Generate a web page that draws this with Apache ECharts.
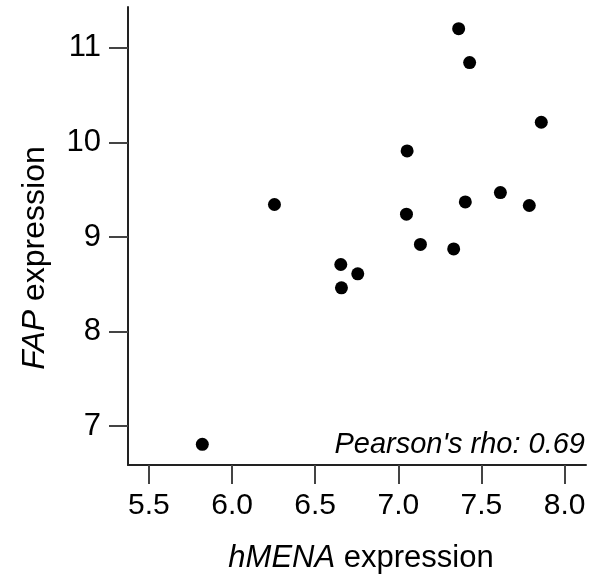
<!DOCTYPE html>
<html><head><meta charset="utf-8">
<script src="https://cdn.jsdelivr.net/npm/echarts@6/dist/echarts.min.js"></script>
<style>html,body{margin:0;padding:0;background:#fff}#c{width:593px;height:581px}</style>
</head><body><div id="c"></div>
<script>
const hmena = [7.363, 7.429, 7.860, 7.053, 6.255, 7.614, 7.403, 7.788, 7.049, 7.133, 7.333, 6.654, 6.756, 6.658, 5.821];
const fap   = [11.204, 10.845, 10.214, 9.910, 9.344, 9.470, 9.371, 9.333, 9.241, 8.921, 8.874, 8.709, 8.610, 8.462, 6.807];
const xTicks = [5.5, 6.0, 6.5, 7.0, 7.5, 8.0];
const yTicks = [7, 8, 9, 10, 11];
const xTitleItalic = 'hMENA';
const yTitleItalic = 'FAP';
const titleRest = ' expression';
const annotation = "Pearson's rho: 0.69";

const points = hmena.map((x, i) => [x, fap[i]]);
const chart = echarts.init(document.getElementById('c'), null, {renderer: 'canvas'});
const font = 'Liberation Sans, Arial, Helvetica, sans-serif';
const titleRich = {
  i: {fontStyle: 'italic', fontSize: 31, fontFamily: font, fill: '#000', color: '#000'},
  n: {fontSize: 31, fontFamily: font, fill: '#000', color: '#000'}
};
chart.setOption({
  animation: false,
  grid: {left: 128, top: 7, width: 458, height: 458, containLabel: false},
  xAxis: {
    type: 'value', min: 5.374, max: 8.129,
    splitLine: {show: false},
    axisLine: {show: true, onZero: false, lineStyle: {color: '#222', width: 2}},
    axisTick: {show: true, length: 19, inside: false, customValues: xTicks, lineStyle: {color: '#444', width: 2}},
    axisLabel: {customValues: xTicks, margin: 26, fontSize: 30, color: '#000', fontFamily: font,
      formatter: v => v.toFixed(1)}
  },
  yAxis: {
    type: 'value', min: 6.588, max: 11.433,
    splitLine: {show: false},
    axisLine: {show: true, onZero: false, lineStyle: {color: '#222', width: 2}},
    axisTick: {show: true, length: 19, inside: false, customValues: yTicks, lineStyle: {color: '#444', width: 2}},
    axisLabel: {customValues: yTicks, margin: 27, fontSize: 31, color: '#000', fontFamily: font}
  },
  graphic: [{
    type: 'text', right: 8, top: 430,
    style: {text: annotation, font: 'italic 29px Liberation Sans, Arial, sans-serif', fill: '#000'}
  }, {
    type: 'text', x: 361, y: 558,
    style: {text: '{i|' + xTitleItalic + '}{n|' + titleRest + '}', rich: titleRich,
      align: 'center', verticalAlign: 'middle', fill: '#000'}
  }, {
    type: 'text', x: 35, y: 258, rotation: Math.PI / 2,
    style: {text: '{i|' + yTitleItalic + '}{n|' + titleRest + '}', rich: {
        i: {fontStyle: 'italic', fontSize: 32, fontFamily: font, fill: '#000'},
        n: {fontSize: 32, fontFamily: font, fill: '#000'}},
      align: 'center', verticalAlign: 'middle', fill: '#000'}
  }],
  series: [{
    type: 'scatter', data: points, symbol: 'circle', symbolSize: 13,
    itemStyle: {color: '#000', opacity: 1}
  }]
});
</script></body></html>
